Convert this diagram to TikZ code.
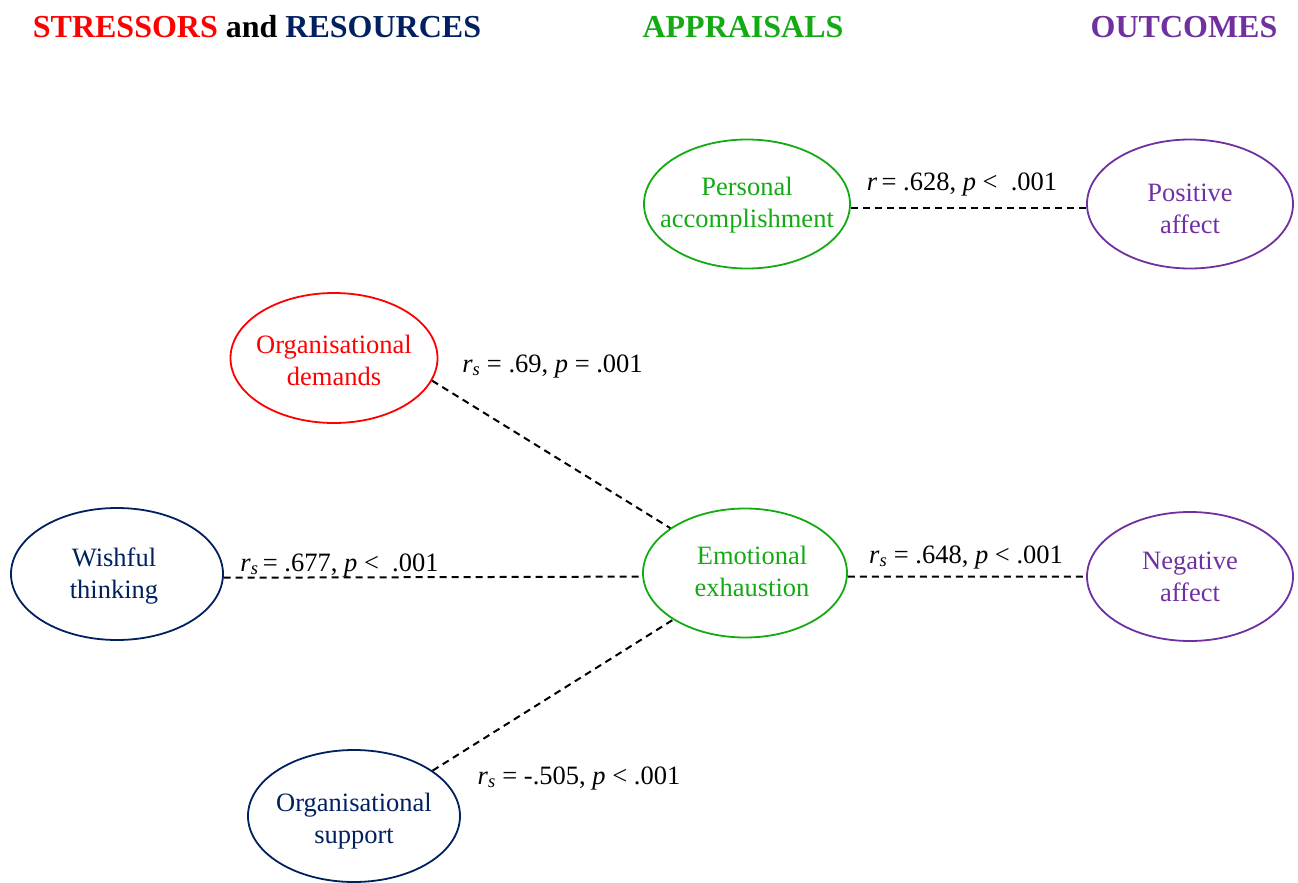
\documentclass[tikz,border=0pt]{standalone}
\usepackage{fontspec}
\setmainfont{Liberation Serif}
\usetikzlibrary{shapes.geometric}
\definecolor{stressred}{RGB}{255,0,0}
\definecolor{resnavy}{RGB}{0,32,96}
\definecolor{apprgreen}{RGB}{20,170,20}
\definecolor{outpurple}{RGB}{112,48,160}
\begin{document}
\begin{tikzpicture}[x=1pt,y=-1pt,
  construct/.style={ellipse, draw=#1, line width=1.8pt, inner sep=0pt,
    minimum width=206pt, minimum height=129pt},
  wide/.style={minimum width=212pt, minimum height=132pt},
  ctext/.style={text=#1, align=center, inner sep=0pt,
    font=\fontsize{26.5}{32}\selectfont},
  link/.style={line width=2pt, dash pattern=on 7pt off 5pt},
  stat/.style={anchor=base, inner sep=0pt, font=\fontsize{26.5}{32}\selectfont},
  heading/.style={anchor=base, inner sep=0pt,
    font=\fontsize{32}{38}\selectfont\bfseries}]
\useasboundingbox (0,0) rectangle (1298,883);

% column headings
\node[heading] (h1) at (257,38) {\textcolor{stressred}{STRESSORS} and \textcolor{resnavy}{RESOURCES}};
\node[heading, text=apprgreen] (h2) at (743,38) {APPRAISALS};
\node[heading, text=outpurple] (h3) at (1184,38) {OUTCOMES};

% constructs, each with its two-line label
\node[construct=apprgreen] (pa) at (747,204) {};
\node[ctext=apprgreen] (pat) at ([yshift=-1pt]pa.center) {Personal\\accomplishment};
\node[construct=outpurple] (pos) at (1190,204) {};
\node[ctext=outpurple] (post) at ([yshift=-5pt]pos.center) {Positive\\affect};
\node[construct=stressred, minimum width=207pt, minimum height=130pt] (od) at (334,358) {};
\node[ctext=stressred] (odt) at ([yshift=-2.5pt]od.center) {Organisational\\demands};
\node[construct=resnavy, wide] (ws) at (117,574) {};
\node[ctext=resnavy] (wst) at ([xshift=-3pt,yshift=-2.5pt]ws.center) {Wishful\\thinking};
\node[construct=apprgreen, minimum width=204pt] (ee) at (745,573) {};
\node[ctext=apprgreen] (eet) at ([xshift=7pt,yshift=2pt]ee.center) {Emotional\\exhaustion};
\node[construct=outpurple] (na) at (1190,576.5) {};
\node[ctext=outpurple] (nat) at (na.center) {Negative\\affect};
\node[construct=resnavy, wide] (os) at (354,816) {};
\node[ctext=resnavy] (ost) at ([yshift=-5pt]os.center) {Organisational\\support};

% correlations
\draw[link] (pa.-2) -- (pos.182);
\draw[link] (od.-13) -- (ee.149);
\draw[link] (ws.-2) -- (ee.182);
\draw[link] (ee.-2) -- (na.180);
\draw[link] (os.30) -- (ee.213);

% statistics
\node[stat] (s1) at (962,190) {\textit{r}\,= .628, \textit{p} <~ .001};
\node[stat] (s2) at (552.5,372) {\textit{r}\textsubscript{\textit{s}} = .69, \textit{p} = .001};
\node[stat] (s3) at (339.5,571) {\textit{r}\textsubscript{\textit{s}}\,= .677, \textit{p} <~ .001};
\node[stat] (s4) at (966,563) {\textit{r}\textsubscript{\textit{s}} = .648, \textit{p} < .001};
\node[stat] (s5) at (579,784) {\textit{r}\textsubscript{\textit{s}} = -.505, \textit{p} < .001};
\end{tikzpicture}
\end{document}
